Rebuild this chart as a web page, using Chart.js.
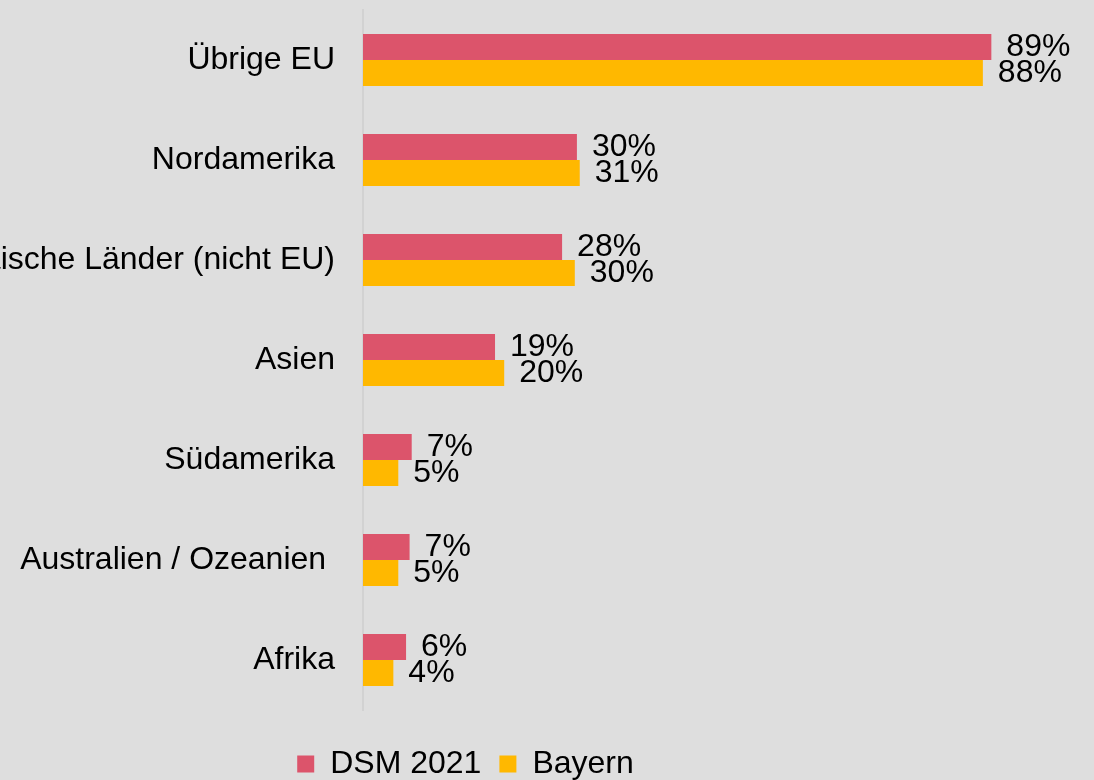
<!DOCTYPE html>
<html>
<head>
<meta charset="utf-8">
<script src="https://cdn.jsdelivr.net/npm/chart.js@4"></script>
<style>
  html, body { margin: 0; padding: 0; background: #dedede; }
  canvas { display: block; }
</style>
</head>
<body>
<canvas id="chart" width="1094" height="780"></canvas>
<script>
const regions = [
  "Übrige EU",
  "Nordamerika",
  "Europäische Länder (nicht EU)",
  "Asien",
  "Südamerika",
  "Australien / Ozeanien ",
  "Afrika"
];
const dsm2021 = [89, 30.3, 28.2, 18.7, 6.9, 6.6, 6.1];
const bayern = [87.8, 30.7, 30.0, 20.0, 5.0, 5.0, 4.3];

const FONT = "'Liberation Sans', Arial, sans-serif";

const valueLabels = {
  id: "valueLabels",
  afterLayout(chart) {
    // nudge the legend to where the original sits
    const lg = chart.legend;
    const dx = -69, dy = 20;
    lg.left += dx; lg.right += dx;
    lg.top += dy; lg.bottom += dy;
  },
  afterDatasetsDraw(chart) {
    const ctx = chart.ctx;
    ctx.save();
    ctx.font = "32px " + FONT;
    ctx.fillStyle = "#000";
    ctx.textAlign = "left";
    ctx.textBaseline = "middle";
    chart.data.datasets.forEach((ds, i) => {
      chart.getDatasetMeta(i).data.forEach((bar, j) => {
        ctx.fillText(Math.round(ds.data[j]) + "%", bar.x + 15, bar.y);
      });
    });
    ctx.restore();
  }
};

new Chart(document.getElementById("chart").getContext("2d"), {
  type: "bar",
  data: {
    labels: regions,
    datasets: [
      {
        label: "DSM 2021",
        data: dsm2021,
        backgroundColor: "#dc546b",
        barPercentage: 1,
        categoryPercentage: 0.52
      },
      {
        label: "Bayern",
        data: bayern,
        backgroundColor: "#ffb800",
        barPercentage: 1,
        categoryPercentage: 0.52
      }
    ]
  },
  options: {
    indexAxis: "y",
    responsive: false,
    animation: false,
    layout: {
      padding: { top: 10, right: 25, bottom: 10, left: 0 }
    },
    scales: {
      x: {
        display: false,
        min: 0,
        max: 100
      },
      y: {
        grid: { display: false, drawTicks: false },
        border: { display: true, color: "#d2d2d2", width: 2 },
        ticks: {
          color: "#000",
          padding: 28,
          font: { family: FONT, size: 32 }
        },
        afterFit(scale) {
          scale.width = 363;
          scale.paddingTop = 0;
          scale.paddingBottom = 0;
        }
      }
    },
    plugins: {
      legend: {
        position: "bottom",
        labels: {
          color: "#000",
          boxWidth: 17,
          boxHeight: 17,
          padding: 18,
          font: { family: FONT, size: 32 }
        }
      },
      tooltip: { enabled: false }
    }
  },
  plugins: [valueLabels]
});
</script>
</body>
</html>
